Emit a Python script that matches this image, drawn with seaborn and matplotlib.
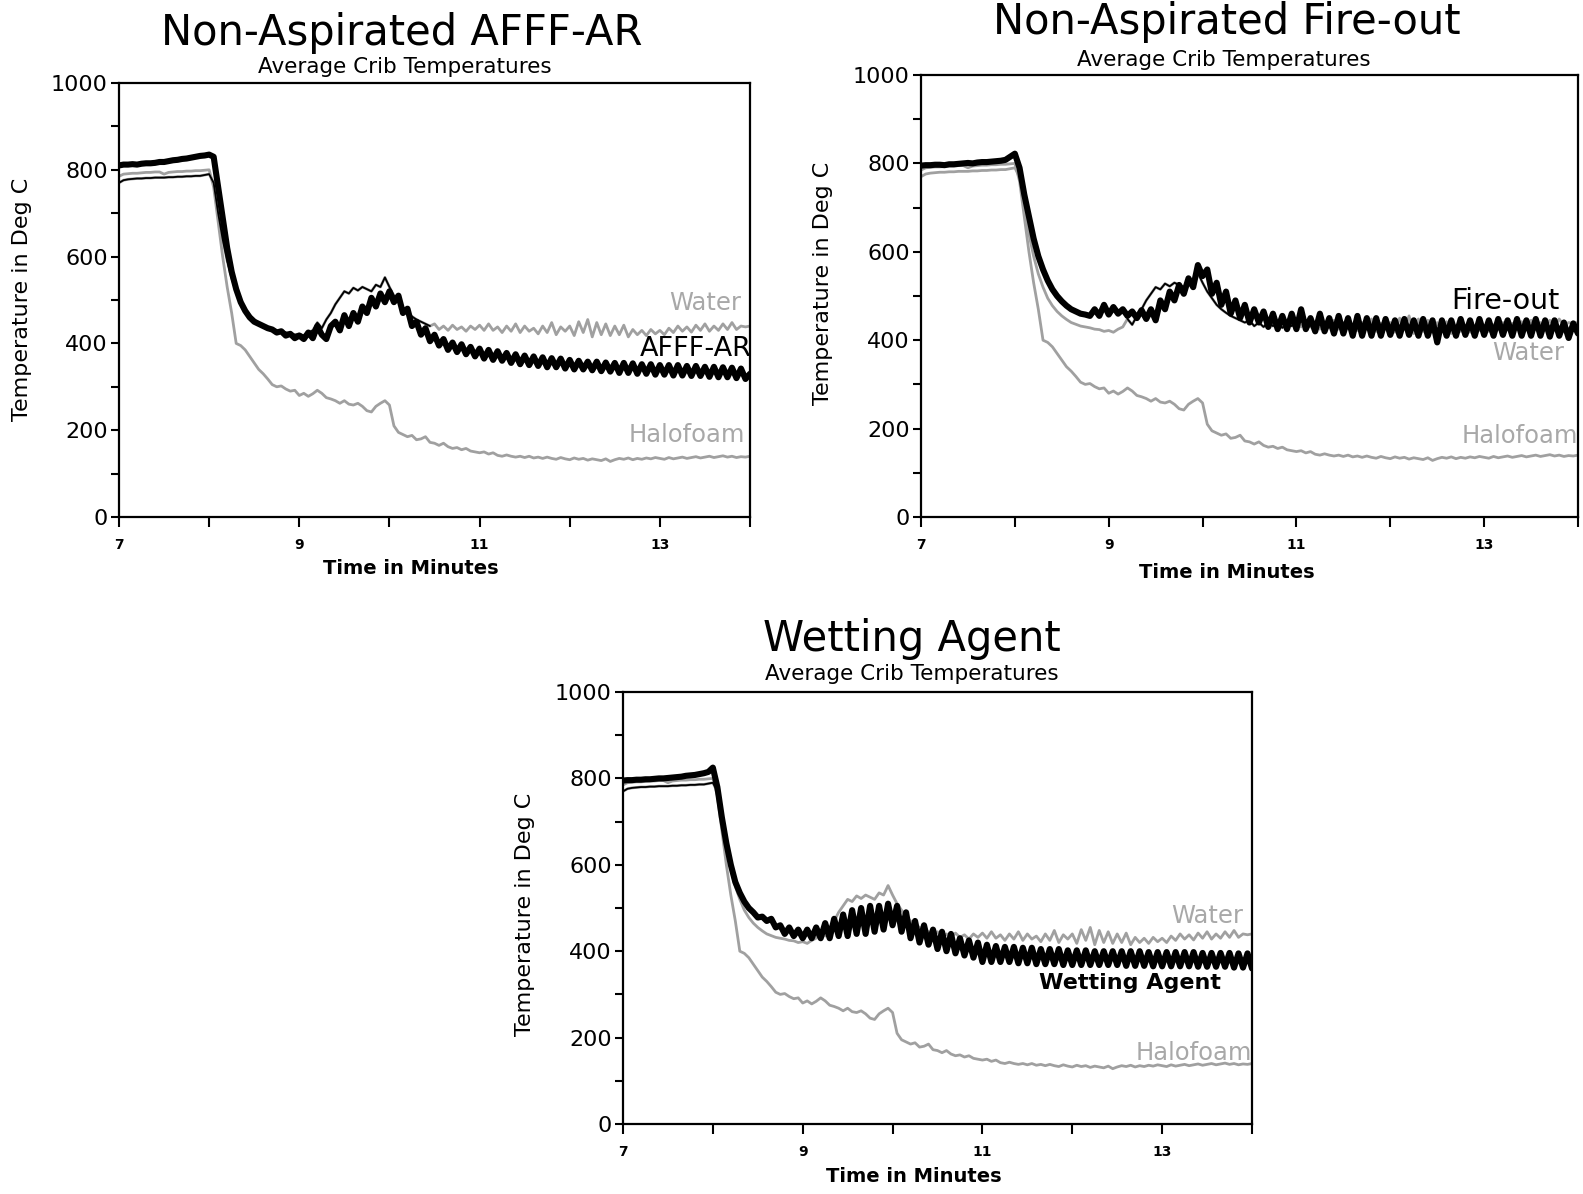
import numpy as np
import matplotlib
matplotlib.use("Agg")
import matplotlib.pyplot as plt
import seaborn as sns

# time axis: one reading every 0.05 min, 7.00 .. 14.00
minutes = np.round(np.linspace(7, 14, 141), 2)

# each row below = half a minute (10 readings), last value is t = 14.0
water = [
    770, 776, 778, 779, 780, 780, 781, 781, 782, 782,
    782, 783, 783, 784, 784, 785, 785, 786, 786, 788,
    790, 770, 700, 640, 590, 550, 520, 495, 478, 465,
    455, 447, 440, 436, 432, 430, 428, 425, 424, 420,
    422, 418, 425, 430, 448, 435, 455, 470, 490, 505,
    520, 515, 528, 522, 530, 525, 520, 535, 530, 552,
    530, 510, 495, 480, 470, 462, 455, 450, 445, 440,
    445, 432, 440, 430, 442, 432, 438, 428, 440, 432,
    442, 430, 445, 430, 438, 425, 440, 428, 445, 425,
    440, 428, 435, 422, 440, 425, 448, 420, 438, 428,
    440, 418, 450, 425, 455, 415, 448, 420, 445, 418,
    440, 420, 442, 415, 432, 420, 430, 418, 432, 422,
    430, 420, 435, 425, 440, 428, 438, 426, 442, 430,
    445, 428, 440, 430, 445, 432, 448, 432, 440, 438,
    440]

halofoam = [
    785, 790, 791, 792, 792, 793, 794, 794, 795, 795,
    790, 794, 795, 796, 796, 797, 797, 798, 798, 799,
    800, 760, 680, 600, 530, 470, 400, 395, 385, 370,
    355, 340, 330, 318, 305, 300, 302, 295, 290, 292,
    280, 285, 278, 284, 292, 285, 275, 272, 268, 262,
    268, 260, 258, 262, 255, 245, 242, 255, 262, 268,
    258, 210, 195, 190, 185, 188, 178, 180, 185, 172,
    170, 165, 170, 162, 158, 160, 155, 158, 152, 150,
    148, 150, 145, 148, 142, 140, 143, 140, 138, 140,
    137, 140, 136, 138, 135, 138, 135, 133, 137, 134,
    132, 136, 133, 135, 131, 134, 132, 130, 134, 128,
    132, 135, 133, 136, 132, 135, 133, 136, 134, 137,
    135, 133, 137, 134, 136, 138, 135, 137, 139, 136,
    138, 140, 137, 139, 141, 138, 140, 137, 139, 138,
    140]

afff_ar = [
    810, 812, 812, 813, 812, 814, 815, 815, 816, 818,
    818, 820, 822, 823, 825, 826, 828, 830, 832, 833,
    835, 830, 760, 690, 620, 565, 525, 495, 475, 460,
    450, 445, 440, 435, 432, 425, 428, 418, 422, 412,
    418, 410, 425, 412, 440, 420, 410, 440, 450, 430,
    465, 440, 470, 450, 485, 470, 505, 485, 515, 495,
    520, 495, 510, 470, 480, 440, 450, 420, 435, 405,
    420, 395, 410, 385, 402, 380, 398, 375, 392, 370,
    388, 365, 385, 362, 382, 360, 378, 355, 375, 352,
    372, 350, 370, 348, 368, 345, 366, 345, 365, 342,
    362, 340, 360, 340, 358, 338, 358, 336, 356, 335,
    355, 332, 355, 332, 354, 330, 352, 330, 352, 328,
    350, 328, 350, 326, 350, 326, 348, 325, 348, 325,
    346, 323, 346, 322, 345, 322, 344, 320, 342, 318,
    330]

fire_out = [
    795, 796, 796, 797, 797, 796, 798, 798, 799, 800,
    801, 800, 802, 803, 803, 804, 805, 806, 808, 815,
    822, 790, 730, 680, 630, 590, 560, 535, 515, 500,
    488, 478, 470, 465, 460, 458, 455, 470, 455, 480,
    458, 475, 460, 470, 455, 465, 450, 468, 448, 470,
    445, 490, 470, 510, 490, 525, 505, 540, 520, 570,
    545, 560, 505, 530, 480, 510, 460, 490, 450, 480,
    440, 470, 440, 465, 430, 460, 425, 455, 425, 460,
    425, 470, 425, 450, 420, 460, 420, 450, 415, 455,
    415, 450, 410, 455, 410, 450, 410, 450, 410, 448,
    412, 445, 410, 448, 412, 445, 410, 448, 410, 445,
    395, 445, 410, 445, 410, 448, 412, 445, 410, 448,
    412, 445, 410, 448, 412, 445, 410, 448, 410, 445,
    410, 448, 410, 445, 408, 445, 410, 440, 405, 438,
    415]

wetting_agent = [
    795, 796, 796, 797, 797, 798, 798, 799, 800, 800,
    801, 802, 803, 804, 806, 807, 808, 810, 812, 815,
    825, 780, 710, 650, 600, 560, 535, 515, 500, 490,
    478, 480, 470, 475, 455, 460, 440, 455, 435, 450,
    430, 450, 430, 455, 430, 465, 430, 475, 435, 485,
    435, 495, 440, 500, 440, 505, 445, 505, 450, 510,
    460, 505, 445, 490, 430, 470, 420, 460, 415, 450,
    405, 445, 400, 440, 395, 430, 390, 425, 385, 420,
    375, 415, 375, 412, 375, 410, 375, 410, 372, 408,
    372, 408, 370, 405, 370, 405, 370, 405, 368, 402,
    368, 402, 368, 402, 368, 400, 368, 400, 368, 400,
    368, 400, 366, 400, 366, 400, 366, 398, 365, 398,
    365, 398, 365, 398, 365, 398, 365, 398, 364, 396,
    364, 396, 364, 396, 364, 396, 362, 395, 362, 395,
    360]

for name, s in [("water", water), ("halofoam", halofoam), ("afff_ar", afff_ar),
                ("fire_out", fire_out), ("wetting_agent", wetting_agent)]:
    assert len(s) == len(minutes), (name, len(s))

x_ticks = [7, 8, 9, 10, 11, 12, 13, 14]
x_ticklabels = ["7", "", "9", "", "11", "", "13", ""]
y_ticks = [0, 100, 200, 300, 400, 500, 600, 700, 800, 900, 1000]
y_ticklabels = ["0", "", "200", "", "400", "", "600", "", "800", "", "1000"]

sns.set_theme(style="ticks")
plt.rcParams["font.family"] = ["DejaVu Sans"]
plt.rcParams["text.color"] = "black"
plt.rcParams["xtick.color"] = "black"
plt.rcParams["ytick.color"] = "black"

W, H = 1583, 1194
fig = plt.figure(figsize=(W / 100, H / 100), dpi=100)


def px(x, y):
    return x / W, 1 - y / H


grey = "#a0a0a0"
label_grey = "#a8a8a8"

# label entries: text, x, y, colour, size, weight
panels = [
    dict(box=(119, 83, 750, 517), title="Non-Aspirated AFFF-AR", agent=afff_ar,
         dark=(7.0, 10.45),
         title_xy=(402, 33), sub_xy=(405, 67), xl_xy=(411, 568), yl_xy=(22, 299),
         labels=[("Water", 13.9, 493, label_grey, 17.5, "normal"),
                 ("AFFF-AR", 14.02, 388, "black", 19.5, "normal"),
                 ("Halofoam", 13.95, 190, label_grey, 17.5, "normal")]),
    dict(box=(921, 75, 1578, 517), title="Non-Aspirated Fire-out", agent=fire_out,
         dark=(9.2, 11.0),
         title_xy=(1227, 22), sub_xy=(1224, 60), xl_xy=(1227, 572), yl_xy=(823, 283),
         labels=[("Fire-out", 13.8, 489, "black", 20.5, "normal"),
                 ("Water", 13.85, 370, label_grey, 17.5, "normal"),
                 ("Halofoam", 14.0, 183, label_grey, 17.5, "normal")]),
    dict(box=(623, 692, 1252, 1124), title="Wetting Agent", agent=wetting_agent,
         dark=(7.0, 8.1),
         title_xy=(912, 639), sub_xy=(912, 674), xl_xy=(914, 1177), yl_xy=(525, 914),
         labels=[("Water", 13.9, 481, label_grey, 17.5, "normal"),
                 ("Wetting Agent", 13.65, 327, "black", 16, "bold"),
                 ("Halofoam", 14.0, 164, label_grey, 17.5, "normal")]),
]

for p in panels:
    x0, y0, x1, y1 = p["box"]
    ax = fig.add_axes([x0 / W, 1 - y1 / H, (x1 - x0) / W, (y1 - y0) / H])

    sns.lineplot(x=minutes, y=halofoam, ax=ax, color=grey, lw=2.0)
    sns.lineplot(x=minutes, y=water, ax=ax, color=grey, lw=2.0)
    m = (minutes >= p["dark"][0]) & (minutes <= p["dark"][1])
    sns.lineplot(x=minutes[m], y=np.array(water)[m], ax=ax, color="black", lw=1.3)
    sns.lineplot(x=minutes, y=p["agent"], ax=ax, color="black", lw=4.4)

    ax.set_xlim(7, 14)
    ax.set_ylim(0, 1000)
    ax.set_xticks(x_ticks)
    ax.set_xticklabels(x_ticklabels, fontsize=10, fontweight="bold")
    ax.set_yticks(y_ticks)
    ax.set_yticklabels(y_ticklabels, fontsize=16)
    ax.tick_params(direction="out", length=6, width=1.5, color="black", pad=2)
    ax.tick_params(axis="x", length=7, pad=8)
    ax.set_xlabel("")
    ax.set_ylabel("")
    for sp in ax.spines.values():
        sp.set_visible(True)
        sp.set_linewidth(1.6)
        sp.set_color("black")

    for txt, tx, ty, col, fs, fw in p["labels"]:
        ax.text(tx, ty, txt, ha="right", va="center", fontsize=fs, color=col,
                fontweight=fw, zorder=5)

    fig.text(*px(*p["title_xy"]), p["title"], ha="center", va="center", fontsize=30)
    fig.text(*px(*p["sub_xy"]), "Average Crib Temperatures", ha="center", va="center",
             fontsize=15.5)
    fig.text(*px(*p["xl_xy"]), "Time in Minutes", ha="center", va="center",
             fontsize=14, fontweight="bold")
    fig.text(*px(*p["yl_xy"]), "Temperature in Deg C", ha="center", va="center",
             fontsize=16, rotation=90)

fig.savefig("out.png", dpi=100)
